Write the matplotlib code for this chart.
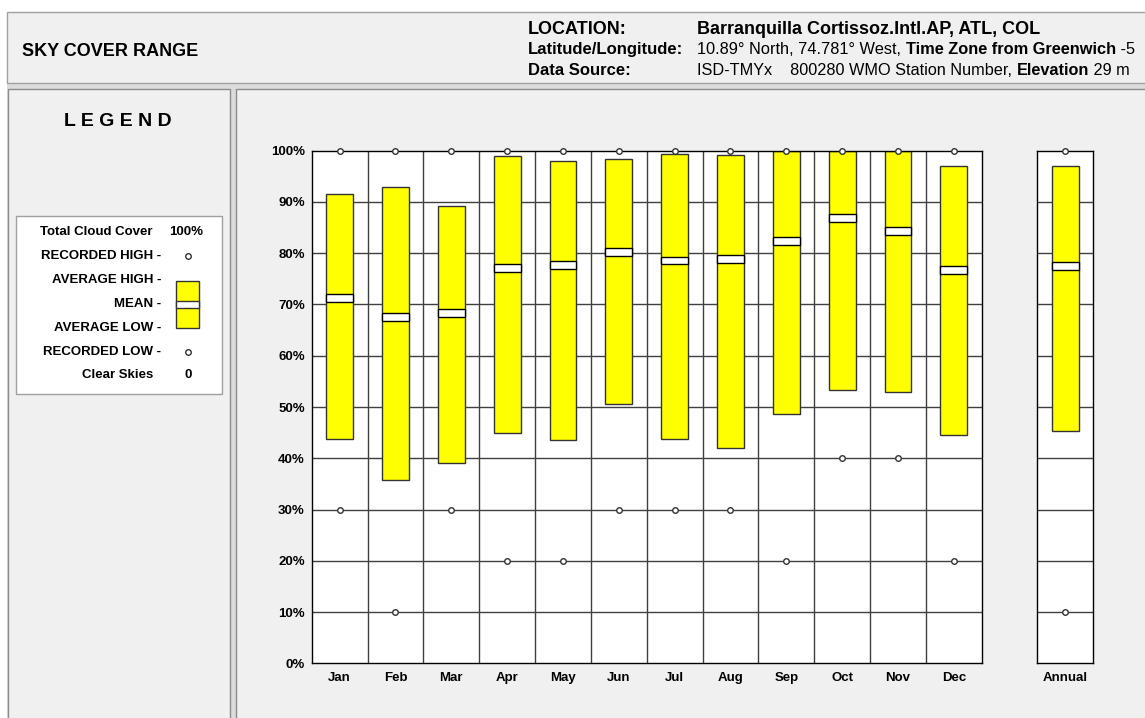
import matplotlib
matplotlib.use("Agg")
import matplotlib.pyplot as plt
from matplotlib.patches import Rectangle

plt.rcParams['font.family'] = ['Liberation Sans', 'DejaVu Sans']

# ---------------- data ----------------
months = ['Jan', 'Feb', 'Mar', 'Apr', 'May', 'Jun', 'Jul', 'Aug', 'Sep', 'Oct', 'Nov', 'Dec']
avg_high = [91.5, 92.9, 89.3, 98.9, 98.0, 98.4, 99.4, 99.2, 100.0, 100.0, 100.0, 97.1]
mean_cov = [71.3, 67.5, 68.4, 77.1, 77.7, 80.2, 78.6, 78.9, 82.4, 86.9, 84.4, 76.7]
avg_low = [43.8, 35.8, 39.1, 44.9, 43.5, 50.6, 43.8, 42.0, 48.7, 53.3, 52.9, 44.5]
rec_high = [100, 100, 100, 100, 100, 100, 100, 100, 100, 100, 100, 100]
rec_low = [30, 10, 30, 20, 20, 30, 30, 30, 20, 40, 40, 20]

annual_label = ['Annual']
annual_high = [97.1]
annual_mean = [77.5]
annual_low = [45.3]
annual_rec_high = [100]
annual_rec_low = [10]

yticks = [0, 10, 20, 30, 40, 50, 60, 70, 80, 90, 100]
ytick_labels = ['0%', '10%', '20%', '30%', '40%', '50%', '60%', '70%', '80%', '90%', '100%']

# ---------------- layout ----------------
W, H = 1145, 718
fig = plt.figure(figsize=(W / 100, H / 100), dpi=100, facecolor='white')

bg = fig.add_axes([0, 0, 1, 1], zorder=-5)
bg.set_xlim(0, W)
bg.set_ylim(H, 0)
bg.axis('off')

PANEL = '#f0f0f0'
BORDER = '#a0a0a0'

# border zone under header and between panels
bg.add_patch(Rectangle((7, 83), W - 7, H - 83, facecolor='#dcdcdc', edgecolor='none'))
# header
bg.add_patch(Rectangle((7, 12), W, 71, facecolor=PANEL, edgecolor=BORDER, lw=1))
# legend panel
bg.add_patch(Rectangle((8, 89), 222, H, facecolor=PANEL, edgecolor='#8c8c8c', lw=1))
# chart panel
bg.add_patch(Rectangle((236, 89), W, H, facecolor=PANEL, edgecolor='#8c8c8c', lw=1))

renderer = fig.canvas.get_renderer()


def seg_text(x, y, segments, size):
    for txt, weight in segments:
        t = bg.text(x, y, txt, fontsize=size, fontweight=weight, va='baseline', ha='left',
                    color='black')
        bb = t.get_window_extent(renderer)
        x += bb.width


bg.text(22, 56, 'SKY COVER RANGE', fontsize=13, fontweight='bold', va='baseline', ha='left')
bg.text(528, 34, 'LOCATION:', fontsize=13, fontweight='bold', va='baseline', ha='left')
bg.text(697, 34, 'Barranquilla Cortissoz.Intl.AP, ATL, COL', fontsize=13, fontweight='bold',
        va='baseline', ha='left')
bg.text(528, 54, 'Latitude/Longitude:', fontsize=12, fontweight='bold', va='baseline', ha='left')
seg_text(697, 54, [('10.89° North, 74.781° West, ', 'normal'),
                   ('Time Zone from Greenwich', 'bold'), (' -5', 'normal')], 11.8)
bg.text(528, 75, 'Data Source:', fontsize=12, fontweight='bold', va='baseline', ha='left')
seg_text(697, 75, [('ISD-TMYx    800280 WMO Station Number, ', 'normal'),
                   ('Elevation', 'bold'), (' 29 m', 'normal')], 11.7)

# ---------------- legend ----------------
bg.text(118, 122, 'L E G E N D', fontsize=14, fontweight='bold', va='center', ha='center')
bg.add_patch(Rectangle((16, 216), 206, 178, facecolor='white', edgecolor=BORDER, lw=1))
lx = 161
lsize = 9.5
bg.text(153, 232, 'Total Cloud Cover', fontsize=lsize, fontweight='bold', va='center', ha='right')
bg.text(186, 232, '100%', fontsize=lsize, fontweight='bold', va='center', ha='center')
bg.text(lx, 256, 'RECORDED HIGH -', fontsize=lsize, fontweight='bold', va='center', ha='right')
bg.plot([188], [256], 'o', ms=4, mfc='white', mec='#333333', mew=1)
bg.text(lx, 280, 'AVERAGE HIGH -', fontsize=lsize, fontweight='bold', va='center', ha='right')
bg.text(lx, 304, 'MEAN -', fontsize=lsize, fontweight='bold', va='center', ha='right')
bg.text(lx, 328, 'AVERAGE LOW -', fontsize=lsize, fontweight='bold', va='center', ha='right')
bg.text(lx, 352, 'RECORDED LOW -', fontsize=lsize, fontweight='bold', va='center', ha='right')
bg.plot([188], [352], 'o', ms=4, mfc='white', mec='#333333', mew=1)
bg.text(153, 375, 'Clear Skies', fontsize=lsize, fontweight='bold', va='center', ha='right')
bg.text(188, 375, '0', fontsize=lsize, fontweight='bold', va='center', ha='center')
bg.add_patch(Rectangle((176, 281), 23, 47, facecolor='#ffff00', edgecolor='#333333', lw=1))
bg.add_patch(Rectangle((176, 301), 23, 7, facecolor='white', edgecolor='#333333', lw=1))

# ---------------- chart axes ----------------
ax_left, ax_right = 311.7, 981.7
an_left, an_right = 1037.3, 1093.3
y_top, y_bot = 150.7, 663.3


def make_axes(x0, x1):
    return fig.add_axes([x0 / W, 1 - y_bot / H, (x1 - x0) / W, (y_bot - y_top) / H])


BAR_W = 0.48
BAND = 0.75
GRID = '#404040'
EDGE = '#333333'


def draw(ax, labels, hi, mn, lo, rh, rl, show_y):
    n = len(labels)
    ax.set_xlim(0, n)
    ax.set_ylim(0, 100)
    ax.set_facecolor('white')
    for v in yticks[1:-1]:
        ax.axhline(v, color=GRID, lw=1, zorder=1)
    for i in range(1, n):
        ax.axvline(i, color=GRID, lw=1, zorder=1)
    xs = [i + 0.5 for i in range(n)]
    ax.bar(xs, [h - l for h, l in zip(hi, lo)], bottom=lo, width=BAR_W,
           color='#ffff00', edgecolor=EDGE, lw=1, zorder=2)
    ax.bar(xs, [2 * BAND] * n, bottom=[m - BAND for m in mn], width=BAR_W,
           color='white', edgecolor='black', lw=1, zorder=3)
    ax.plot(xs, rh, 'o', ls='none', ms=4, mfc='white', mec=EDGE, mew=1, zorder=5, clip_on=False)
    ax.plot(xs, rl, 'o', ls='none', ms=4, mfc='white', mec=EDGE, mew=1, zorder=5, clip_on=False)
    ax.set_xticks(xs)
    ax.set_xticklabels(labels, fontsize=9.5, fontweight='bold')
    ax.set_yticks(yticks)
    if show_y:
        ax.set_yticklabels(ytick_labels, fontsize=9.5, fontweight='bold')
    else:
        ax.set_yticklabels([])
    ax.tick_params(axis='y', length=0, pad=5)
    ax.tick_params(axis='x', length=0, pad=6)
    for s in ax.spines.values():
        s.set_color('black')
        s.set_linewidth(1)
        s.set_zorder(4)


ax = make_axes(ax_left, ax_right)
draw(ax, months, avg_high, mean_cov, avg_low, rec_high, rec_low, True)
ax2 = make_axes(an_left, an_right)
draw(ax2, annual_label, annual_high, annual_mean, annual_low, annual_rec_high, annual_rec_low, False)

fig.savefig('out.png', dpi=100, facecolor=fig.get_facecolor())
